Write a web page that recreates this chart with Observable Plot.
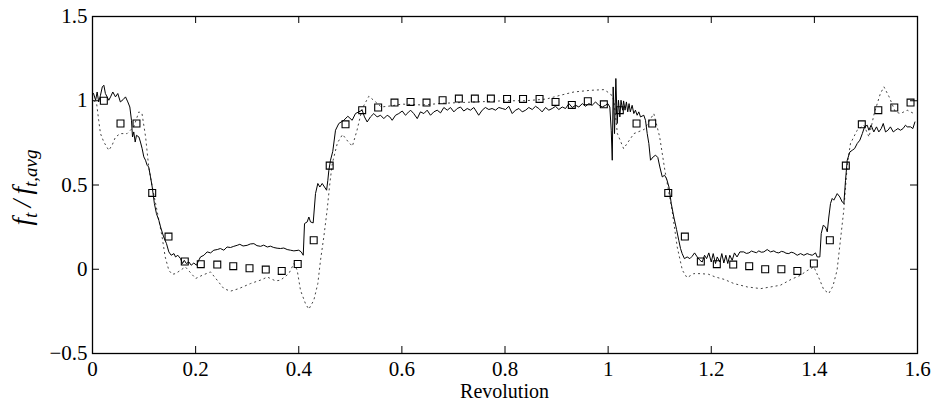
<!DOCTYPE html>
<html>
<head>
<meta charset="utf-8">
<script src="https://cdn.jsdelivr.net/npm/d3@7"></script>
<script src="https://cdn.jsdelivr.net/npm/@observablehq/plot@0.6"></script>
<style>
  html, body { margin: 0; padding: 0; background: #fff; }
  #chart svg { display: block; }
</style>
</head>
<body>
<div id="chart"></div>
<script>
// ---- Data ----
const xTicks = [0, 0.2, 0.4, 0.6, 0.8, 1, 1.2, 1.4, 1.6];
const yTicks = [-0.5, 0, 0.5, 1, 1.5];

// solid line (simulation)
const solidRev = [
0.002,0.006,0.009,0.012,0.0155,0.019,0.022,0.025,0.0316,0.035,0.0394,0.0446,0.049,0.054,0.0595,0.064,0.0685,0.0724,0.0756,0.0776,
0.080,0.0828,0.0853,0.090,0.093,0.0963,0.0995,0.1028,0.106,0.109,0.1125,0.1158,0.120,0.124,0.1287,0.132,0.138,0.1435,0.148,0.1526,
0.158,0.161,0.1655,0.1707,0.1746,0.178,0.182,0.187,0.1914,0.1965,0.2017,0.206,0.2095,0.216,0.2224,0.229,0.2353,0.242,0.248,0.2547,
0.261,0.2677,0.274,0.2806,0.2857,0.292,0.300,0.306,0.313,0.319,0.326,0.332,0.339,0.345,0.3516,0.358,0.3646,0.371,0.3776,0.384,
0.3905,0.400,0.4048,0.4087,0.4112,0.4164,0.4196,0.4228,0.428,0.4325,0.437,0.4409,0.4455,0.450,0.454,0.4564,0.4584,0.4616,0.466,0.4713,
0.4777,0.4874,0.4952,0.5036,0.510,0.5165,0.523,0.5275,0.5327,0.539,0.5456,0.552,0.5586,0.565,0.5715,0.5766,0.5812,0.5877,0.594,0.6007,
0.607,0.6116,0.6168,0.623,0.6298,0.636,0.6426,0.649,0.6555,0.662,0.6685,0.675,0.6814,0.688,0.6943,0.7008,0.7073,0.7137,0.720,0.7267,
0.733,0.7396,0.749,0.7558,0.762,0.7686,0.775,0.7816,0.788,0.7946,0.801,0.8074,0.814,0.8204,0.827,0.8334,0.840,0.8462,0.8528,0.8592,
0.8656,0.872,0.8786,0.885,0.8916,0.898,0.9044,0.911,0.9174,0.924,0.9304,0.937,0.9432,0.950,0.956,0.9626,0.969,0.9756,0.982,0.9886,
0.995,0.9994,1.0033,1.006,1.008,1.0098,1.0124,1.015,1.0176,1.020,1.0227,1.025,1.028,1.030,1.0328,1.0355,1.038,1.0406,1.043,1.0466,
1.0498,1.053,1.0563,1.0595,1.0628,1.0692,1.0725,1.0758,1.079,1.0822,1.0874,1.092,1.0964,1.1003,1.105,1.1094,1.1133,1.118,1.1224,1.1274,
1.1327,1.137,1.1404,1.1436,1.148,1.1533,1.1585,1.163,1.1676,1.1728,1.178,1.1825,1.187,1.191,1.1953,1.200,1.2038,1.2083,1.2116,1.2167,
1.2205,1.2244,1.2283,1.232,1.236,1.2406,1.245,1.250,1.2555,1.263,1.268,1.273,1.278,1.2826,1.2875,1.2923,1.297,1.302,1.3085,1.315,
1.3214,1.326,1.331,1.336,1.3408,1.345,1.3505,1.355,1.360,1.3667,1.3732,1.3796,1.386,1.391,1.3958,1.4023,1.4055,1.4106,1.4133,1.4172,
1.4216,1.425,1.428,1.4313,1.4346,1.4377,1.441,1.4443,1.4494,1.454,1.4572,1.4604,1.4637,1.4688,1.4734,1.478,1.483,1.4882,1.493,1.4973,
1.5025,1.5057,1.510,1.5153,1.5205,1.525,1.5297,1.5336,1.538,1.5427,1.5475,1.553,1.5573,1.562,1.567,1.572,1.5767,1.580,1.5865,1.591,
1.595
];
const solidF = [
1.043,1.003,1.052,0.993,1.033,1.082,1.092,1.043,1.003,1.023,1.052,1.023,1.043,0.993,1.007,1.023,0.993,0.963,0.884,0.785,
0.815,0.755,0.795,0.785,0.755,0.716,0.667,0.647,0.617,0.607,0.548,0.488,0.39,0.33,0.29,0.251,0.192,0.152,0.103,0.083,
0.093,0.073,0.083,0.063,0.034,0.053,0.034,0.043,0.024,0.037,0.024,0.053,0.073,0.083,0.103,0.097,0.113,0.117,0.123,0.113,
0.132,0.129,0.136,0.142,0.148,0.138,0.142,0.150,0.152,0.140,0.136,0.143,0.132,0.137,0.129,0.125,0.123,0.126,0.117,0.113,
0.109,0.113,0.103,0.083,0.271,0.281,0.31,0.281,0.275,0.449,0.509,0.488,0.509,0.488,0.469,0.528,0.588,0.647,0.70,0.825,
0.865,0.884,0.908,0.884,0.924,0.934,0.944,0.904,0.874,0.904,0.924,0.904,0.914,0.894,0.914,0.904,0.884,0.914,0.924,0.939,
0.914,0.928,0.944,0.924,0.894,0.934,0.924,0.944,0.914,0.934,0.944,0.928,0.96,0.944,0.96,0.934,0.954,0.963,0.939,0.954,
0.944,0.96,0.914,0.944,0.96,0.948,0.954,0.944,0.96,0.954,0.948,0.967,0.924,0.944,0.954,0.934,0.944,0.96,0.948,0.967,
0.954,0.934,0.96,0.944,0.954,0.967,0.948,0.963,0.954,0.983,0.96,0.973,0.963,0.983,0.967,0.983,0.973,0.993,0.973,0.963,
0.973,0.983,0.963,0.825,0.647,1.082,0.805,1.132,0.865,1.003,0.904,1.003,0.944,0.999,0.944,0.993,0.934,0.983,0.934,0.973,
0.924,0.944,0.914,0.934,0.904,0.914,0.884,0.805,0.746,0.647,0.667,0.677,0.663,0.607,0.548,0.558,0.538,0.488,0.39,0.31,
0.236,0.172,0.123,0.093,0.063,0.073,0.063,0.077,0.097,0.073,0.053,0.043,0.083,0.063,0.097,0.043,0.093,0.034,0.073,0.043,
0.093,0.037,0.083,0.034,0.083,0.053,0.097,0.073,0.103,0.103,0.094,0.097,0.108,0.103,0.098,0.109,0.101,0.103,0.117,0.103,
0.109,0.100,0.097,0.106,0.103,0.095,0.093,0.101,0.097,0.083,0.093,0.083,0.093,0.087,0.083,0.097,0.073,0.073,0.212,0.261,
0.251,0.222,0.31,0.39,0.42,0.41,0.429,0.449,0.429,0.399,0.39,0.528,0.647,0.696,0.706,0.716,0.746,0.766,0.805,0.845,
0.855,0.825,0.855,0.815,0.845,0.815,0.835,0.865,0.815,0.825,0.845,0.815,0.825,0.835,0.825,0.835,0.855,0.845,0.845,0.835,
0.874
];

// dotted line (model)
const dottedRev = [
0.003,0.008,0.012,0.0155,0.022,0.0316,0.038,0.0446,0.054,0.067,0.080,0.090,0.096,0.103,0.109,0.116,0.125,0.135,0.141,0.148,
0.1545,0.161,0.1707,0.180,0.190,0.200,0.2127,0.2289,0.2418,0.2547,0.2677,0.2838,0.3064,0.329,0.3388,0.355,0.3646,0.3808,0.3905,0.397,
0.4034,0.413,0.4195,0.4292,0.437,0.4422,0.4486,0.455,0.4603,0.465,0.475,0.485,0.495,0.504,0.513,0.523,0.536,0.549,0.560,0.580,
0.60,0.64,0.68,0.72,0.76,0.80,0.84,0.88,0.908,0.9335,0.966,0.992,1.005,1.011,1.018,1.030,1.050,1.070,1.0886,1.100,
1.110,1.124,1.134,1.144,1.153,1.166,1.180,1.195,1.208,1.225,1.244,1.27,1.296,1.334,1.355,1.373,1.385,1.399,1.41,1.418,
1.428,1.436,1.444,1.457,1.464,1.47,1.483,1.496,1.506,1.516,1.528,1.535,1.545,1.557,1.567,1.58,1.593
];
const dottedF = [
1.0,0.983,0.884,0.805,0.755,0.706,0.736,0.785,0.805,0.805,0.845,0.934,0.924,0.785,0.607,0.488,0.35,0.192,0.073,-0.006,
-0.03,-0.026,-0.006,0.014,-0.02,-0.055,-0.036,-0.016,-0.065,-0.115,-0.13,-0.115,-0.085,-0.061,-0.046,-0.069,-0.065,-0.026,0.034,-0.006,
-0.125,-0.204,-0.237,-0.184,-0.085,0.053,0.192,0.35,0.509,0.627,0.75,0.80,0.76,0.73,0.825,0.953,1.027,0.993,0.963,0.97,
0.98,0.975,0.985,0.99,0.995,1.0,1.0,1.01,1.033,1.052,1.062,1.066,1.04,1.003,0.805,0.716,0.805,0.83,0.924,0.785,
0.588,0.35,0.132,-0.006,-0.05,-0.026,-0.026,-0.03,-0.046,-0.06,-0.085,-0.105,-0.115,-0.095,-0.06,-0.036,-0.01,0.014,-0.06,-0.12,
-0.144,-0.1,-0.006,0.35,0.627,0.746,0.825,0.855,0.785,0.924,1.043,1.082,1.023,0.934,0.924,0.944,0.924
];

// squares (experiment)
const squareRev = [
0.022,0.0543,0.0853,0.1158,0.1474,0.179,0.21,0.242,0.273,0.3045,0.336,0.367,0.398,0.429,0.46,0.4907,0.523,0.554,0.5857,0.6168,
0.6478,0.679,0.7105,0.7415,0.7726,0.804,0.835,0.867,0.898,0.9296,0.9606,0.9917,1.0227,1.0551,1.0855,1.1166,1.1488,1.1798,1.2108,1.2426,
1.2736,1.3046,1.336,1.367,1.399,1.43,1.461,1.492,1.524,1.555,1.5865
];
const squareF = [
1.0,0.865,0.865,0.453,0.194,0.046,0.03,0.028,0.018,0.006,-0.002,-0.01,0.031,0.172,0.615,0.86,0.944,0.96,0.989,0.993,
0.989,1.003,1.013,1.013,1.013,1.011,1.011,1.011,0.993,0.975,0.997,0.979,0.944,0.865,0.865,0.453,0.194,0.046,0.03,0.028,
0.018,0.0,0.0,-0.01,0.034,0.172,0.615,0.86,0.944,0.96,0.989
];

// ---- Build tables ----
const solid = solidRev.map((x, i) => ({x, y: solidF[i]}));
const dotted = dottedRev.map((x, i) => ({x, y: dottedF[i]}));
const squares = squareRev.map((x, i) => ({x, y: squareF[i]}));

const fmt = d => d < 0 ? "\u2212" + String(Math.abs(d)) : String(d);

const W = 932, H = 403, ML = 92, MR = 15, MT = 16, MB = 50;
const PW = W - ML - MR, PH = H - MT - MB, TK = 7;

const chart = Plot.plot({
  width: W, height: H,
  marginLeft: ML, marginRight: MR, marginTop: MT, marginBottom: MB,
  x: {domain: [0, 1.6]},
  y: {domain: [-0.5, 1.5]},
  style: {fontFamily: "Liberation Serif", fontSize: "21px", color: "black"},
  marks: [
    Plot.line(dotted, {x: "x", y: "y", stroke: "#444", strokeWidth: 1, strokeDasharray: "1.2,3.8"}),
    Plot.line(solid, {x: "x", y: "y", stroke: "black", strokeWidth: 1}),
    Plot.dot(squares, {x: "x", y: "y", symbol: "square", r: 3.9, stroke: "black", fill: "none", strokeWidth: 1.1}),
    Plot.ruleX(xTicks, {x: d => d, insetTop: PH - TK, stroke: "black"}),
    Plot.ruleX(xTicks, {x: d => d, insetBottom: PH - TK, stroke: "black"}),
    Plot.ruleY(yTicks, {y: d => d, insetRight: PW - TK, stroke: "black"}),
    Plot.ruleY(yTicks, {y: d => d, insetLeft: PW - TK, stroke: "black"}),
    Plot.frame({stroke: "black", strokeWidth: 1.3}),
    Plot.axisX(xTicks, {tickSize: 0, tickPadding: 8, tickFormat: fmt, fontSize: 21, label: null, fill: "black"}),
    Plot.axisY(yTicks, {tickSize: 0, tickPadding: 5, tickFormat: fmt, fontSize: 21, label: null, fill: "black"})
  ]
});

document.getElementById("chart").appendChild(chart);

// Axis titles
const svg = d3.select(chart);
const xs = chart.scale("x"), ys = chart.scale("y");
svg.append("text")
  .attr("x", xs.apply(0.8)).attr("y", H - 5)
  .attr("text-anchor", "middle")
  .attr("font-size", 20).attr("fill", "black")
  .text("Revolution");

const yt = svg.append("text")
  .attr("transform", `translate(31,${ys.apply(0.5) + 3}) rotate(-90)`)
  .attr("text-anchor", "middle")
  .attr("font-size", 27).attr("font-style", "italic").attr("fill", "black");
yt.append("tspan").text("f");
yt.append("tspan").attr("baseline-shift", "-30%").attr("font-size", 19).text("t");
yt.append("tspan").text("\u2009/\u2009f");
yt.append("tspan").attr("baseline-shift", "-30%").attr("font-size", 19).text("t,avg");
</script>
</body>
</html>
